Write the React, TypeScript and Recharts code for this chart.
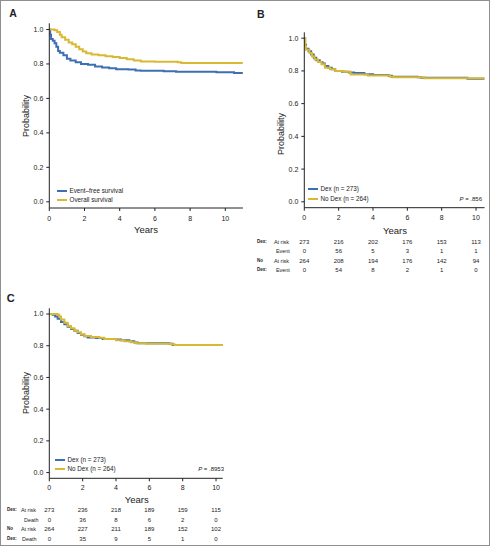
import React from 'react';
import { LineChart, Line, XAxis, YAxis } from 'recharts';

const FONT = "'Liberation Sans', Arial, Helvetica, sans-serif";
const BLUE = '#3d6fb4';
const GOLD = '#d9b933';
const INK = '#222222';

const yearTicks = [0, 2, 4, 6, 8, 10];
const probTicks = [0, 0.2, 0.4, 0.6, 0.8, 1.0];

// ---- Panel A: event-free and overall survival ----
const efsYears = [0, 0.05, 0.1, 0.2, 0.3, 0.4, 0.5, 0.6, 0.8, 1.0, 1.2, 1.5, 1.8, 2.2, 2.6, 3.0, 3.4, 3.8, 4.5, 4.9, 5.2, 6.5, 7.2, 9.5, 10.5, 11];
const efsProb = [1.0, 0.97, 0.945, 0.935, 0.92, 0.9, 0.875, 0.865, 0.85, 0.83, 0.82, 0.81, 0.8, 0.795, 0.785, 0.78, 0.775, 0.77, 0.768, 0.762, 0.76, 0.757, 0.755, 0.752, 0.748, 0.748];
const osYears = [0, 0.3, 0.45, 0.6, 0.7, 0.9, 1.1, 1.3, 1.5, 1.7, 1.9, 2.1, 2.4, 2.8, 3.2, 3.6, 4.0, 4.4, 4.8, 5.2, 6.0, 7.3, 7.5, 11];
const osProb = [1.0, 0.995, 0.985, 0.97, 0.955, 0.94, 0.925, 0.915, 0.9, 0.885, 0.872, 0.862, 0.855, 0.85, 0.845, 0.84, 0.835, 0.828, 0.82, 0.815, 0.813, 0.81, 0.805, 0.805];

// ---- Panel B: EFS by dexamethasone ----
const dexEfsYears = [0, 0.05, 0.1, 0.25, 0.4, 0.55, 0.7, 0.9, 1.05, 1.2, 1.4, 1.6, 1.8, 2.2, 2.6, 2.9, 3.5, 4.0, 4.9, 5.1, 6.6, 6.8, 9.4, 9.5, 10.5];
const dexEfsProb = [1.0, 0.96, 0.935, 0.92, 0.9, 0.88, 0.865, 0.855, 0.845, 0.83, 0.82, 0.81, 0.8, 0.795, 0.79, 0.787, 0.78, 0.775, 0.77, 0.765, 0.762, 0.758, 0.758, 0.752, 0.752];
const noDexEfsYears = [0, 0.05, 0.1, 0.3, 0.45, 0.6, 0.8, 1.0, 1.2, 1.5, 1.8, 2.3, 2.7, 3.7, 5.0, 5.2, 7.0, 10.5];
const noDexEfsProb = [1.0, 0.95, 0.93, 0.91, 0.89, 0.87, 0.855, 0.84, 0.82, 0.81, 0.8, 0.795, 0.778, 0.772, 0.765, 0.762, 0.755, 0.752];

// ---- Panel C: OS by dexamethasone ----
const dexOsYears = [0, 0.2, 0.35, 0.5, 0.7, 0.9, 1.1, 1.3, 1.5, 1.7, 1.9, 2.1, 2.3, 2.8, 3.2, 4.0, 4.3, 4.8, 5.1, 5.3, 7.2, 7.4, 10.4];
const dexOsProb = [1.0, 0.995, 0.985, 0.97, 0.95, 0.935, 0.92, 0.905, 0.895, 0.88, 0.87, 0.86, 0.852, 0.848, 0.842, 0.84, 0.835, 0.828, 0.82, 0.815, 0.812, 0.805, 0.805];
const noDexOsYears = [0, 0.5, 0.6, 0.7, 0.9, 1.1, 1.3, 1.5, 1.7, 1.9, 2.1, 2.5, 3.0, 3.3, 4.0, 4.5, 4.9, 5.2, 5.8, 7.3, 7.5, 10.4];
const noDexOsProb = [1.0, 0.995, 0.985, 0.965, 0.945, 0.925, 0.91, 0.895, 0.885, 0.872, 0.862, 0.855, 0.85, 0.842, 0.835, 0.828, 0.822, 0.815, 0.813, 0.81, 0.805, 0.805];

// ---- Numbers at risk ----
const dexAtRiskB = [273, 216, 202, 176, 153, 113];
const dexEventB = [0, 56, 5, 3, 1, 1];
const noAtRiskB = [264, 208, 194, 176, 142, 94];
const noEventB = [0, 54, 8, 2, 1, 0];

const dexAtRiskC = [273, 236, 218, 189, 159, 115];
const dexDeathC = [0, 36, 8, 6, 2, 0];
const noAtRiskC = [264, 227, 211, 189, 152, 102];
const noDeathC = [0, 35, 9, 5, 1, 0];

const toPoints = (years: number[], probs: number[]) => years.map((t, i) => ({ t, s: probs[i] }));

type Series = { name: string; color: string; data: { t: number; s: number }[] };

function KMChart(props: {
  width: number; height: number;
  margin: { top: number; right: number; bottom: number; left: number };
  xMax: number; tickMargin: number; mainH: number;
  lines: Series[]; rows: number[][]; rowH: number;
}) {
  const { width, height, margin, xMax, tickMargin, mainH, lines, rows, rowH } = props;
  return (
    <LineChart width={width} height={height} margin={margin} style={{ fontFamily: FONT }}>
      <XAxis
        xAxisId="main" type="number" dataKey="t" domain={[0, xMax]} ticks={yearTicks} interval={0}
        allowDataOverflow height={mainH} tickSize={3} tickMargin={tickMargin}
        tick={{ fontSize: 7, fill: INK }} stroke={INK}
      />
      {rows.map((vals, i) => (
        <XAxis
          key={i} xAxisId={`r${i}`} type="number" dataKey="t" domain={[0, xMax]} ticks={yearTicks} interval={0}
          allowDataOverflow height={rowH} axisLine={false} tickLine={false} tickSize={0} tickMargin={0}
          tick={{ fontSize: 6, fill: INK }}
          tickFormatter={(v: number) => String(vals[yearTicks.indexOf(v)])}
        />
      ))}
      <YAxis
        type="number" domain={[-0.036, 1.036]} ticks={probTicks} interval={0} allowDataOverflow
        width={40} tickSize={3} tickMargin={3} tick={{ fontSize: 7, fill: INK }}
        tickFormatter={(v: number) => v.toFixed(1)} stroke={INK}
      />
      {lines.map((l) => (
        <Line
          key={l.name} xAxisId="main" data={l.data} dataKey="s" type="stepAfter"
          stroke={l.color} strokeWidth={2} dot={false} isAnimationActive={false}
        />
      ))}
    </LineChart>
  );
}

function Txt(props: {
  x: number; y: number; children: React.ReactNode; size?: number; bold?: boolean;
  anchor?: 'start' | 'middle' | 'end'; rotate?: boolean; sx?: number;
}) {
  const { x, y, children, size = 7, bold = false, anchor = 'middle', rotate = false, sx = 1 } = props;
  const tx = anchor === 'start' ? '0' : anchor === 'end' ? '-100%' : '-50%';
  const origin = anchor === 'start' ? 'left center' : anchor === 'end' ? 'right center' : 'center center';
  return (
    <div
      style={{
        position: 'absolute', left: x, top: y, whiteSpace: 'nowrap', lineHeight: 1,
        fontSize: size, fontWeight: bold ? 700 : 400, color: INK, fontFamily: FONT,
        transform: `translate(${tx}, -50%)${rotate ? ' rotate(-90deg)' : ''}${sx !== 1 ? ` scaleX(${sx})` : ''}`,
        transformOrigin: rotate ? 'center center' : origin,
      }}
    >
      {children}
    </div>
  );
}

function LegendItem(props: { x: number; y: number; color: string; label: string }) {
  const { x, y, color, label } = props;
  return (
    <>
      <div style={{ position: 'absolute', left: x, top: y - 1, width: 10, height: 2, background: color }} />
      <Txt x={x + 12.5} y={y} size={6.3} anchor="start">{label}</Txt>
    </>
  );
}

function RowLabels(props: { x: number; xs: number[]; ys: number[]; first: string[]; second: string[] }) {
  const { x, xs, ys, first, second } = props;
  return (
    <>
      {ys.map((y, i) => (
        <React.Fragment key={i}>
          {first[i] && <Txt x={x} y={y} size={5.6} bold anchor="start" sx={0.8}>{first[i]}</Txt>}
          <Txt x={xs[i]} y={y} size={6} anchor="start" sx={0.9}>{second[i]}</Txt>
        </React.Fragment>
      ))}
    </>
  );
}

const seriesA: Series[] = [
  { name: 'Event–free survival', color: BLUE, data: toPoints(efsYears, efsProb) },
  { name: 'Overall survival', color: GOLD, data: toPoints(osYears, osProb) },
];
const seriesB: Series[] = [
  { name: 'Dex (n = 273)', color: BLUE, data: toPoints(dexEfsYears, dexEfsProb) },
  { name: 'No Dex (n = 264)', color: GOLD, data: toPoints(noDexEfsYears, noDexEfsProb) },
];
const seriesC: Series[] = [
  { name: 'Dex (n = 273)', color: BLUE, data: toPoints(dexOsYears, dexOsProb) },
  { name: 'No Dex (n = 264)', color: GOLD, data: toPoints(noDexOsYears, noDexOsProb) },
];

export default function App() {
  return (
    <div style={{ position: 'absolute', left: 0, top: 0, width: 492, height: 547, background: '#fff', fontFamily: FONT }}>
      <div style={{ position: 'absolute', left: 0, top: 0, width: 490, height: 546, border: '1px solid #8f8f8f', boxSizing: 'border-box' }} />

      {/* Panel A */}
      <div style={{ position: 'absolute', left: 0, top: 0 }}>
        <KMChart
          width={246} height={230} margin={{ top: 23.3, right: 3.1, left: 9.3, bottom: 2 }}
          xMax={11} tickMargin={4.8} mainH={20} lines={seriesA} rows={[]} rowH={0}
        />
      </div>
      <Txt x={13} y={13.3} size={10.5} bold>A</Txt>
      <Txt x={26.3} y={115.8} size={9} rotate>Probability</Txt>
      <Txt x={146} y={230} size={9.5}>Years</Txt>
      <LegendItem x={57} y={190.7} color={BLUE} label="Event–free survival" />
      <LegendItem x={57} y={200} color={GOLD} label="Overall survival" />

      {/* Panel B */}
      <div style={{ position: 'absolute', left: 246, top: 0 }}>
        <KMChart
          width={246} height={282} margin={{ top: 32.3, right: 7.4, left: 18.3, bottom: 4.5 }}
          xMax={10.5} tickMargin={4.8} mainH={31.8}
          lines={seriesB} rows={[dexAtRiskB, dexEventB, noAtRiskB, noEventB]} rowH={9.5}
        />
      </div>
      <Txt x={260.8} y={13.7} size={10.5} bold>B</Txt>
      <Txt x={280.7} y={134} size={9} rotate>Probability</Txt>
      <Txt x={395} y={230.7} size={9.5}>Years</Txt>
      <LegendItem x={308} y={189.3} color={BLUE} label="Dex (n = 273)" />
      <LegendItem x={308} y={199} color={GOLD} label="No Dex (n = 264)" />
      <Txt x={482} y={199} size={6} anchor="end"><i>P</i> = .856</Txt>
      <RowLabels
        x={256.7} xs={[273.5, 275.5, 273.5, 275.5]} ys={[241.7, 251.2, 260.7, 270.2]}
        first={['Dex:', '', 'No', 'Dex:']} second={['At risk', 'Event', 'At risk', 'Event']}
      />

      {/* Panel C */}
      <div style={{ position: 'absolute', left: 0, top: 280 }}>
        <KMChart
          width={246} height={267} margin={{ top: 28.3, right: 23.3, left: 9.3, bottom: 0.8 }}
          xMax={10.4} tickMargin={3.5} mainH={29.9}
          lines={seriesC} rows={[dexAtRiskC, dexDeathC, noAtRiskC, noDeathC]} rowH={9.5}
        />
      </div>
      <Txt x={10.8} y={297.5} size={11} bold>C</Txt>
      <Txt x={26.3} y={392.5} size={9} rotate>Probability</Txt>
      <Txt x={136.8} y={500} size={9.5}>Years</Txt>
      <LegendItem x={55} y={460} color={BLUE} label="Dex (n = 273)" />
      <LegendItem x={55} y={469} color={GOLD} label="No Dex (n = 264)" />
      <Txt x={224} y={469} size={6} anchor="end"><i>P</i> = .8953</Txt>
      <RowLabels
        x={7} xs={[20.5, 24, 20.5, 21.5]} ys={[510.3, 519.8, 529.3, 538.8]}
        first={['Dex:', '', 'No', 'Dex:']} second={['At risk', 'Death', 'At risk', 'Death']}
      />
    </div>
  );
}
